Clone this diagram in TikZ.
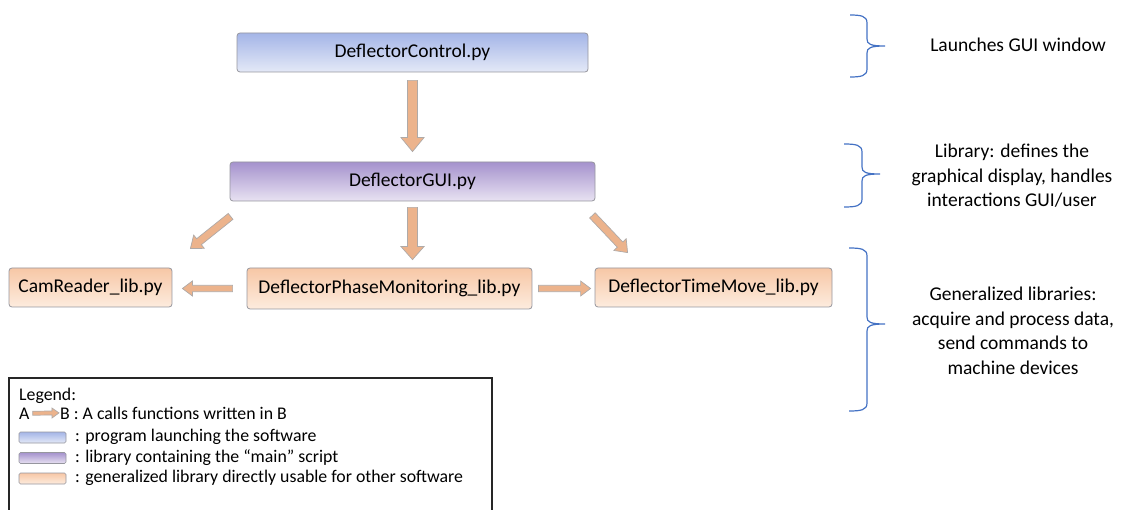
\documentclass[tikz,border=0pt]{standalone}
\usepackage{fontspec}
\setmainfont{Carlito}
\usetikzlibrary{calc}

\definecolor{ctrltop}{RGB}{164,181,231}
\definecolor{ctrlbot}{RGB}{228,233,247}
\definecolor{guitop}{RGB}{165,146,205}
\definecolor{guibot}{RGB}{232,226,242}
\definecolor{libtop}{RGB}{247,199,166}
\definecolor{libbot}{RGB}{253,236,222}
\definecolor{boxedge}{RGB}{150,150,158}
\definecolor{callfill}{RGB}{236,179,140}
\definecolor{calledge}{RGB}{175,170,168}
\definecolor{bracecol}{RGB}{68,114,196}

% block arrow: #1 from, #2 to, #3/#4 gaps at start/end,
% #5 half shaft width, #6 half head width, #7 head length
\newcommand\callarrow[7]{%
  \coordinate (ca-t) at ($(#1)!#3!(#2)$);
  \coordinate (ca-p) at ($(#2)!#4!(#1)$);
  \coordinate (ca-h) at ($(ca-p)!#7!(ca-t)$);
  \draw[callline]
    ($(ca-t)!#5!90:(ca-p)$) -- ($(ca-h)!#5!-90:(ca-t)$) --
    ($(ca-h)!#6!-90:(ca-t)$) -- (ca-p) --
    ($(ca-h)!#6!90:(ca-t)$) -- ($(ca-h)!#5!90:(ca-t)$) --
    ($(ca-t)!#5!-90:(ca-p)$) -- cycle;}

% curly brace opening to the right: x0, xv, xtip, ytop, ytip, ybot
\newcommand\sidebrace[6]{%
  \draw[bracestyle] (#1,#4) .. controls (#2-6,#4) and (#2,#4+1) .. (#2,#4+8)
    -- (#2,#5-7) .. controls (#2,#5-2) and (#2+3,#5) .. (#3,#5)
    .. controls (#2+3,#5) and (#2,#5+2) .. (#2,#5+7)
    -- (#2,#6-8) .. controls (#2,#6-1) and (#2-6,#6) .. (#1,#6);}

\begin{document}
\begin{tikzpicture}[x=1pt,y=-1pt,
  filebox/.style={rectangle, rounded corners=3pt, draw=boxedge, line width=0.8pt,
    inner sep=0pt, minimum height=39pt, font=\fontsize{19.5}{23}\selectfont},
  ctrlbox/.style={filebox, top color=ctrltop, bottom color=ctrlbot},
  guibox/.style={filebox, top color=guitop, bottom color=guibot},
  libbox/.style={filebox, top color=libtop, bottom color=libbot},
  swatch/.style={rectangle, rounded corners=1.5pt, draw=boxedge, line width=0.6pt,
    inner sep=0pt, minimum width=47pt, minimum height=11pt},
  callline/.style={fill=callfill, draw=calledge, line width=0.7pt, line join=miter},
  bracestyle/.style={draw=bracecol, line width=1.2pt},
  note/.style={align=center, font=\fontsize{19.5}{24.5}\selectfont},
  legtext/.style={anchor=base west, inner sep=0pt, font=\fontsize{17.8}{20}\selectfont}]
\useasboundingbox (0,0) rectangle (1124,510);

% program files
\node[ctrlbox, minimum width=351pt] (ctrl) at (412.5,52.5) {DeflectorControl.py};
\node[guibox, minimum width=365pt] (gui) at (412.5,181.5) {DeflectorGUI.py};
\node[libbox, minimum width=163pt] (cam) at (90.5,287.5) {CamReader\_lib.py};
\node[libbox, minimum width=285pt, minimum height=41pt] (pm) at (389.5,288.5) {DeflectorPhaseMonitoring\_lib.py};
\node[libbox, minimum width=237pt] (tm) at (713.5,287.5) {DeflectorTimeMove\_lib.py};

% calls between files
\coordinate (pmtop) at (gui.south |- pm.north);
\coordinate (camtip) at ($(cam.north east)+(18,-19)$);
\coordinate (guiL) at ($(gui.south west)+(1,15)$);
\coordinate (guiR) at ($(gui.south east)+(-3,14)$);
\coordinate (tmtip) at ($(tm.north west)+(33,-15)$);
\coordinate (camE) at (pm.west -| cam.east);
\coordinate (tmW) at (pm.east -| tm.west);

\callarrow{ctrl.south}{gui.north}{8pt}{10pt}{5pt}{11.5pt}{14pt}
\callarrow{gui.south}{pmtop}{6pt}{8pt}{5pt}{11.5pt}{13pt}
\callarrow{guiL}{camtip}{0pt}{0pt}{3.8pt}{8.5pt}{11pt}
\callarrow{guiR}{tmtip}{0pt}{0pt}{3.8pt}{8.5pt}{11pt}
\callarrow{pm.west}{camE}{14pt}{10pt}{3.2pt}{7.5pt}{10pt}
\callarrow{pm.east}{tmW}{6pt}{4pt}{3.2pt}{7.5pt}{10pt}

% braces and notes
\sidebrace{850}{867}{885}{15}{46}{77}
\sidebrace{844}{862}{880}{144}{174}{207}
\sidebrace{849}{867}{885}{248}{324}{411}

\node[note] (n1) at (1018,45) {Launches GUI window};
\node[note] (n2) at (1012,176) {Library: defines the\\graphical display, handles\\interactions GUI/user};
\node[note] (n3) at (1013,331) {Generalized libraries:\\acquire and process data,\\send commands to\\machine devices};

% legend
\draw[line width=1.2pt, draw=black!85] (9,378) rectangle (492,514);
\node[legtext] (lg) at (19,400) {Legend:};
\node[legtext] (lgA) at (19,419) {A};
\node[legtext] (lgB) at (60,419) {B : A calls functions written in B};
\callarrow{lgA.east}{lgB.west}{3pt}{1pt}{2pt}{5pt}{7pt}

\node[swatch, top color=ctrltop, bottom color=ctrlbot] (s1) at (42.5,437.5) {};
\node[swatch, top color=guitop, bottom color=guibot] (s2) at (42.5,458) {};
\node[swatch, top color=libtop, bottom color=libbot] (s3) at (42.5,478.5) {};
\node[legtext] (t1) at (75,441.5) {: program launching the software};
\node[legtext] (t2) at (75,462) {: library containing the “main” script};
\node[legtext] (t3) at (75,482.5) {: generalized library directly usable for other software};
\end{tikzpicture}
\end{document}
